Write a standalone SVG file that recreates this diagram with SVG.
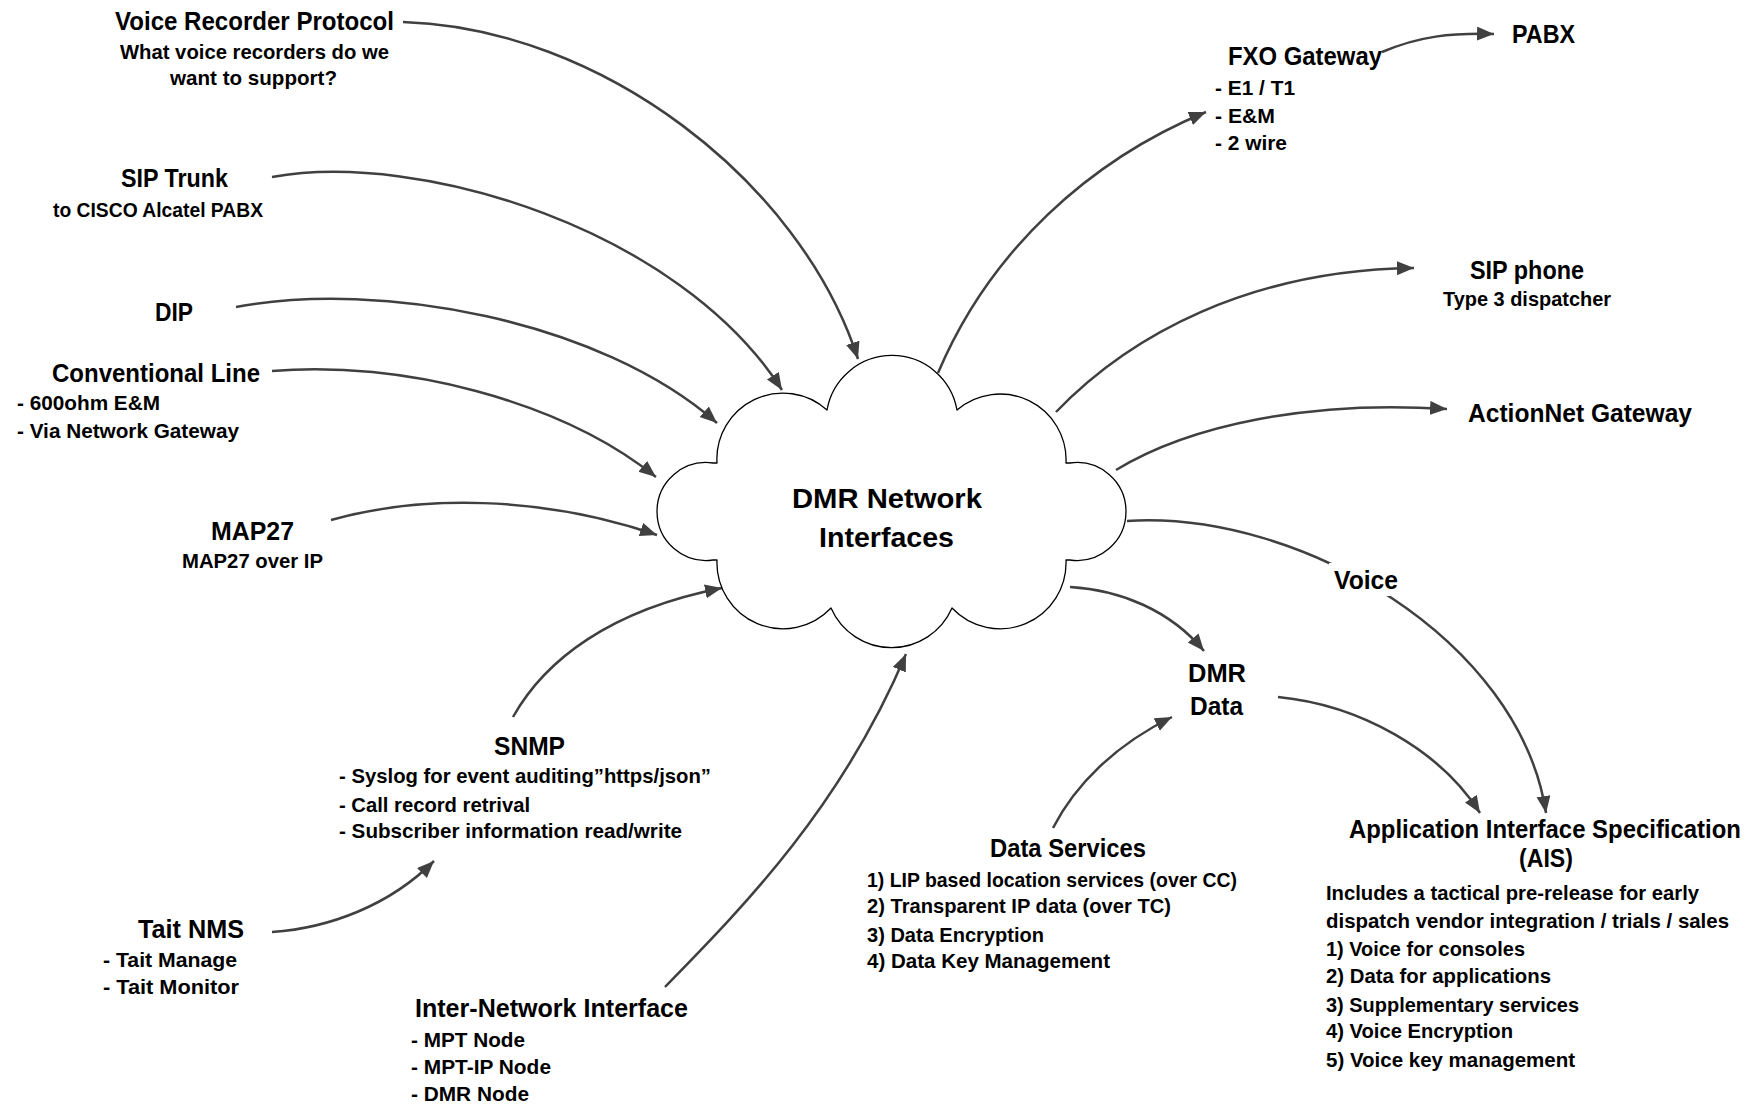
<svg xmlns="http://www.w3.org/2000/svg" width="1758" height="1104" viewBox="0 0 1758 1104">
  <style>
    text { font-family: "Liberation Sans", Arial, sans-serif; font-weight: bold; fill: #000; }
    .t { font-size: 26px; }
    .s { font-size: 21px; }
    .c { font-size: 28px; }
    .conn { fill: none; stroke: #404040; stroke-width: 2.5; marker-end: url(#arrow); }
    .cloud { fill: #fff; stroke: #000; stroke-width: 1.3; stroke-linejoin: round; }
  </style>
  <defs>
    <marker id="arrow" markerUnits="userSpaceOnUse" markerWidth="19" markerHeight="15" refX="17" refY="7" orient="auto">
      <path d="M0,0 L17,7 L0,14 Z" fill="#404040"/>
    </marker>
  </defs>

  <rect width="1758" height="1104" fill="#fff"/>

  <!-- connectors -->
  <g id="connectors">
    <path class="conn" d="M403,22 C600,28 800,180 858,359"/>
    <path class="conn" d="M272,177 C420,150 680,230 782,390"/>
    <path class="conn" d="M236,307 C380,280 600,320 717,423"/>
    <path class="conn" d="M272,371 C400,360 560,400 656,477"/>
    <path class="conn" d="M331,520 C420,495 540,495 657,535"/>
    <path class="conn" d="M513,717 C545,660 610,610 722,588"/>
    <path class="conn" d="M665,987 C740,910 840,810 906,654"/>
    <path class="conn" d="M272,932 C330,928 390,905 434,861"/>
    <path class="conn" d="M938,373 C990,250 1090,160 1206,112"/>
    <path class="conn" d="M1382,52 C1420,36 1450,33 1494,34"/>
    <path class="conn" d="M1056,412 C1130,335 1250,270 1414,268"/>
    <path class="conn" d="M1116,470 C1190,425 1310,400 1447,409"/>
    <path class="conn" d="M1127,521 C1300,510 1520,640 1546,813"/>
    <path class="conn" d="M1070,587 C1120,590 1170,610 1204,651"/>
    <path class="conn" d="M1053,828 C1075,785 1115,745 1172,717"/>
    <path class="conn" d="M1278,697 C1360,705 1440,750 1480,813"/>
  </g>

  <!-- central cloud -->
  <g id="dmr-network">
    <path class="cloud" d="M717,463 A66,66 0 0 1 827,410 A66,66 0 0 1 957,410 A66,66 0 0 1 1066,463 L1070,463 A49,49 0 1 1 1070,560 L1066,560 A66,66 0 0 1 952,608 A66,66 0 0 1 831,608 A66,66 0 0 1 717,560 L713,560 A49,49 0 1 1 713,463 Z"/>
    <text class="c" x="792" y="508" textLength="190" lengthAdjust="spacingAndGlyphs">DMR Network</text>
    <text class="c" x="819" y="547" textLength="135" lengthAdjust="spacingAndGlyphs">Interfaces</text>
  </g>

  <g id="voice-recorder">
    <text class="t" x="115" y="30" textLength="279" lengthAdjust="spacingAndGlyphs">Voice Recorder Protocol</text>
    <text class="s" x="120" y="59" textLength="269" lengthAdjust="spacingAndGlyphs">What voice recorders do we</text>
    <text class="s" x="170" y="85" textLength="167" lengthAdjust="spacingAndGlyphs">want to support?</text>
  </g>

  <g id="sip-trunk">
    <text class="t" x="121" y="187" textLength="107" lengthAdjust="spacingAndGlyphs">SIP Trunk</text>
    <text class="s" x="53" y="217" textLength="210" lengthAdjust="spacingAndGlyphs">to CISCO Alcatel PABX</text>
  </g>

  <g id="dip">
    <text class="t" x="155" y="321" textLength="38" lengthAdjust="spacingAndGlyphs">DIP</text>
  </g>

  <g id="conventional-line">
    <text class="t" x="52" y="382" textLength="208" lengthAdjust="spacingAndGlyphs">Conventional Line</text>
    <text class="s" x="17" y="410" textLength="143" lengthAdjust="spacingAndGlyphs">- 600ohm E&amp;M</text>
    <text class="s" x="17" y="438" textLength="222" lengthAdjust="spacingAndGlyphs">- Via Network Gateway</text>
  </g>

  <g id="map27">
    <text class="t" x="211" y="540" textLength="83" lengthAdjust="spacingAndGlyphs">MAP27</text>
    <text class="s" x="182" y="568" textLength="141" lengthAdjust="spacingAndGlyphs">MAP27 over IP</text>
  </g>

  <g id="snmp">
    <text class="t" x="494" y="755" textLength="71" lengthAdjust="spacingAndGlyphs">SNMP</text>
    <text class="s" x="339" y="783" textLength="372" lengthAdjust="spacingAndGlyphs">- Syslog for event auditing”https/json”</text>
    <text class="s" x="339" y="812" textLength="191" lengthAdjust="spacingAndGlyphs">- Call record retrival</text>
    <text class="s" x="339" y="838" textLength="343" lengthAdjust="spacingAndGlyphs">- Subscriber information read/write</text>
  </g>

  <g id="tait-nms">
    <text class="t" x="138" y="938" textLength="106" lengthAdjust="spacingAndGlyphs">Tait NMS</text>
    <text class="s" x="103" y="967" textLength="134" lengthAdjust="spacingAndGlyphs">- Tait Manage</text>
    <text class="s" x="103" y="994" textLength="136" lengthAdjust="spacingAndGlyphs">- Tait Monitor</text>
  </g>

  <g id="inter-network">
    <text class="t" x="415" y="1017" textLength="273" lengthAdjust="spacingAndGlyphs">Inter-Network Interface</text>
    <text class="s" x="411" y="1047" textLength="114" lengthAdjust="spacingAndGlyphs">- MPT Node</text>
    <text class="s" x="411" y="1074" textLength="140" lengthAdjust="spacingAndGlyphs">- MPT-IP Node</text>
    <text class="s" x="411" y="1101" textLength="118" lengthAdjust="spacingAndGlyphs">- DMR Node</text>
  </g>

  <g id="fxo-gateway">
    <text class="t" x="1228" y="65" textLength="154" lengthAdjust="spacingAndGlyphs">FXO Gateway</text>
    <text class="s" x="1215" y="95" textLength="80" lengthAdjust="spacingAndGlyphs">- E1 / T1</text>
    <text class="s" x="1215" y="123" textLength="60" lengthAdjust="spacingAndGlyphs">- E&amp;M</text>
    <text class="s" x="1215" y="150" textLength="72" lengthAdjust="spacingAndGlyphs">- 2 wire</text>
  </g>

  <g id="pabx">
    <text class="t" x="1512" y="43" textLength="63" lengthAdjust="spacingAndGlyphs">PABX</text>
  </g>

  <g id="sip-phone">
    <text class="t" x="1470" y="279" textLength="114" lengthAdjust="spacingAndGlyphs">SIP phone</text>
    <text class="s" x="1443" y="306" textLength="168" lengthAdjust="spacingAndGlyphs">Type 3 dispatcher</text>
  </g>

  <g id="actionnet-gateway">
    <text class="t" x="1468" y="422" textLength="224" lengthAdjust="spacingAndGlyphs">ActionNet Gateway</text>
  </g>

  <g id="voice">
    <rect x="1329" y="563" width="74" height="33" fill="#fff"/>
    <text class="t" x="1334" y="589" textLength="64" lengthAdjust="spacingAndGlyphs">Voice</text>
  </g>

  <g id="dmr-data">
    <text class="t" x="1188" y="682" textLength="58" lengthAdjust="spacingAndGlyphs">DMR</text>
    <text class="t" x="1190" y="715" textLength="53" lengthAdjust="spacingAndGlyphs">Data</text>
  </g>

  <g id="data-services">
    <text class="t" x="990" y="857" textLength="156" lengthAdjust="spacingAndGlyphs">Data Services</text>
    <text class="s" x="867" y="887" textLength="370" lengthAdjust="spacingAndGlyphs">1) LIP based location services (over CC)</text>
    <text class="s" x="867" y="913" textLength="304" lengthAdjust="spacingAndGlyphs">2) Transparent IP data (over TC)</text>
    <text class="s" x="867" y="942" textLength="177" lengthAdjust="spacingAndGlyphs">3) Data Encryption</text>
    <text class="s" x="867" y="968" textLength="243" lengthAdjust="spacingAndGlyphs">4) Data Key Management</text>
  </g>

  <g id="ais">
    <text class="t" transform="translate(1349,838) scale(0.92,1)">Application Interface Specification</text>
    <text class="t" x="1519" y="867" textLength="54" lengthAdjust="spacingAndGlyphs">(AIS)</text>
    <text class="s" x="1326" y="900" textLength="373" lengthAdjust="spacingAndGlyphs">Includes a tactical pre-release for early</text>
    <text class="s" x="1326" y="928" textLength="403" lengthAdjust="spacingAndGlyphs">dispatch vendor integration / trials / sales</text>
    <text class="s" x="1326" y="956" textLength="199" lengthAdjust="spacingAndGlyphs">1) Voice for consoles</text>
    <text class="s" x="1326" y="983" textLength="225" lengthAdjust="spacingAndGlyphs">2) Data for applications</text>
    <text class="s" x="1326" y="1012" textLength="253" lengthAdjust="spacingAndGlyphs">3) Supplementary services</text>
    <text class="s" x="1326" y="1038" textLength="187" lengthAdjust="spacingAndGlyphs">4) Voice Encryption</text>
    <text class="s" x="1326" y="1067" textLength="249" lengthAdjust="spacingAndGlyphs">5) Voice key management</text>
  </g>
</svg>
